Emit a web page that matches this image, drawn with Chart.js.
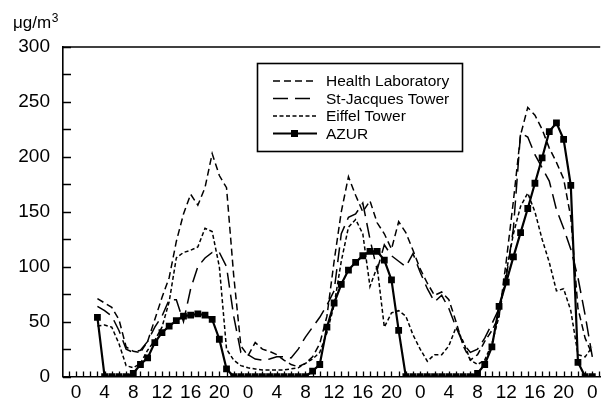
<!DOCTYPE html>
<html><head><meta charset="utf-8">
<script src="https://cdn.jsdelivr.net/npm/chart.js@4.4.0/dist/chart.umd.min.js"></script>
<style>html,body{margin:0;padding:0;background:#fff;}#wrap{width:605px;height:401px;position:relative;}</style>
</head><body><div id="wrap"><canvas id="c" width="605" height="401"></canvas></div>
<script>
// hour since start of first day
const hours = [3,4,5,6,7,8,9,10,11,12,13,14,15,16,17,18,19,20,21,22,23,24,25,26,27,28,29,30,31,32,33,34,35,36,37,38,39,40,41,42,43,44,45,46,47,48,49,50,51,52,53,54,55,56,57,58,59,60,61,62,63,64,65,66,67,68,69,70,71,72];
const healthLab = [71,67,63,52,27,23,22,32,52,72,90,123,148,166,156,172,203,183,172,92,28,19,31,25,23,20,15,11,9,12,18,30,55,105,150,182,165,150,160,140,130,116,141,131,115,98,85,74,77,70,50,28,15,20,32,42,55,105,160,220,245,238,225,208,195,180,145,62,35,20];
const stJacques = [64,60,55,42,25,22,24,32,45,55,70,70,50,80,100,108,113,113,100,55,22,20,16,15,16,18,18,17,25,36,45,54,65,78,130,145,148,158,125,97,120,110,105,100,112,95,80,68,74,62,45,30,22,25,35,48,62,90,135,222,218,202,190,178,152,135,116,90,56,18];
const eiffel = [46,47,45,30,10,8,12,24,33,45,68,108,113,115,118,135,132,100,25,15,10,8,7,6,6,6,6,7,8,12,16,22,40,65,105,136,143,130,82,100,45,58,60,55,38,25,14,20,20,28,45,32,15,11,15,30,55,95,130,155,167,150,125,104,78,80,60,20,18,27];
const azur = [54,0,0,0,0,3,11,17,31,40,46,51,55,56,57,56,52,34,7,0,0,0,0,0,0,0,0,0,0,0,5,11,45,67,84,97,104,110,114,114,106,88,42,0,0,0,0,0,0,0,0,0,0,3,11,27,64,86,109,131,153,176,199,223,231,216,174,13,0,0];
const seriesNames = ['Health Laboratory','St-Jacques Tower','Eiffel Tower','AZUR'];
const xTickValues = [0,4,8,12,16,20,24,28,32,36,40,44,48,52,56,60,64,68,72];
const xTickLabels = ['0','4','8','12','16','20','0','4','8','12','16','20','0','4','8','12','16','20','0'];
const yTickValues = [0,50,100,150,200,250,300];
const yUnit = 'μg/m';
const yUnitSup = '3';

const FONT = '"Liberation Sans", Arial, Helvetica, sans-serif';
const pts = arr => hours.map((h, i) => ({x: h, y: arr[i]}));

const decor = {
  id: 'decor',
  afterDraw(chart) {
    const ctx = chart.ctx, a = chart.chartArea;
    const xs = chart.scales.x, ys = chart.scales.y;
    ctx.save();
    ctx.strokeStyle = '#000';
    ctx.lineWidth = 1.6;
    ctx.beginPath(); ctx.moveTo(a.left, a.top); ctx.lineTo(a.right, a.top); ctx.stroke();
    ctx.lineWidth = 1.3;
    ctx.beginPath();
    xs.ticks.forEach(t => { const p = Math.round(xs.getPixelForValue(t.value)) + 0.5; ctx.moveTo(p, a.bottom); ctx.lineTo(p, a.bottom - 5); });
    ys.ticks.forEach(t => { const p = Math.round(ys.getPixelForValue(t.value)) + 0.5; ctx.moveTo(a.left, p); ctx.lineTo(a.left + 8, p); });
    ctx.stroke();
    ctx.fillStyle = '#000';
    ctx.textBaseline = 'alphabetic';
    ctx.font = '17px ' + FONT;
    ctx.fillText(yUnit, 13, 28);
    const w = ctx.measureText(yUnit).width;
    ctx.font = '12px ' + FONT;
    ctx.fillText(yUnitSup, 13 + w + 0.5, 22);
    const bx = a.left + 194, by = a.top + 16;
    ctx.lineWidth = 1.6;
    ctx.strokeRect(bx + 0.5, by + 0.5, 205, 88);
    ctx.font = '15.5px ' + FONT;
    ctx.textBaseline = 'middle';
    chart.data.datasets.forEach((ds, i) => {
      const y = by + 18 + i * 17.5;
      ctx.save();
      ctx.lineWidth = ds.borderWidth;
      ctx.setLineDash(ds.borderDash || []);
      ctx.beginPath(); ctx.moveTo(bx + 16, y); ctx.lineTo(bx + 60, y); ctx.stroke();
      ctx.restore();
      if (ds.pointRadius > 0) {
        ctx.fillRect(bx + 34, y - 3.5, 7, 7);
      }
      ctx.fillText(ds.label, bx + 69, y + 1);
    });
    ctx.restore();
  }
};

new Chart(document.getElementById('c'), {
  type: 'line',
  data: {
    datasets: [
      {label: seriesNames[0], data: pts(healthLab), borderColor: '#000', borderWidth: 1.5, borderDash: [7, 4], pointRadius: 0, order: 3},
      {label: seriesNames[1], data: pts(stJacques), borderColor: '#000', borderWidth: 1.5, borderDash: [15, 7], pointRadius: 0, order: 2},
      {label: seriesNames[2], data: pts(eiffel), borderColor: '#000', borderWidth: 1.5, borderDash: [4, 2.5], pointRadius: 0, order: 1},
      {label: seriesNames[3], data: pts(azur), borderColor: '#000', borderWidth: 2.2, pointStyle: 'rect', pointRadius: 4.8, pointBackgroundColor: '#000', pointBorderWidth: 0, order: 0}
    ]
  },
  options: {
    responsive: false, animation: false, devicePixelRatio: 1,
    layout: {padding: {top: 47, right: 0, bottom: 0, left: 0}},
    plugins: {legend: {display: false}, tooltip: {enabled: false}},
    elements: {line: {tension: 0}},
    scales: {
      x: {
        type: 'linear', min: -1.8, max: 73.1,
        grid: {display: false, drawTicks: false},
        border: {display: true, color: '#000', width: 1.6},
        ticks: {stepSize: 1, maxTicksLimit: 500, includeBounds: false, autoSkip: false, maxRotation: 0, padding: 5, color: '#000',
          font: {size: 19, family: FONT},
          callback: v => { const k = xTickValues.indexOf(v); return k >= 0 ? xTickLabels[k] : ''; }},
        afterFit: s => { s.height = 24; }
      },
      y: {
        min: 0, max: 300,
        grid: {display: false, drawTicks: false},
        border: {display: true, color: '#000', width: 1.6},
        ticks: {stepSize: 25, padding: 13, color: '#000', font: {size: 19, family: FONT},
          callback: v => yTickValues.includes(v) ? String(v) : ''},
        afterFit: s => { s.width = 63; }
      }
    }
  },
  plugins: [decor]
});
</script></body></html>
